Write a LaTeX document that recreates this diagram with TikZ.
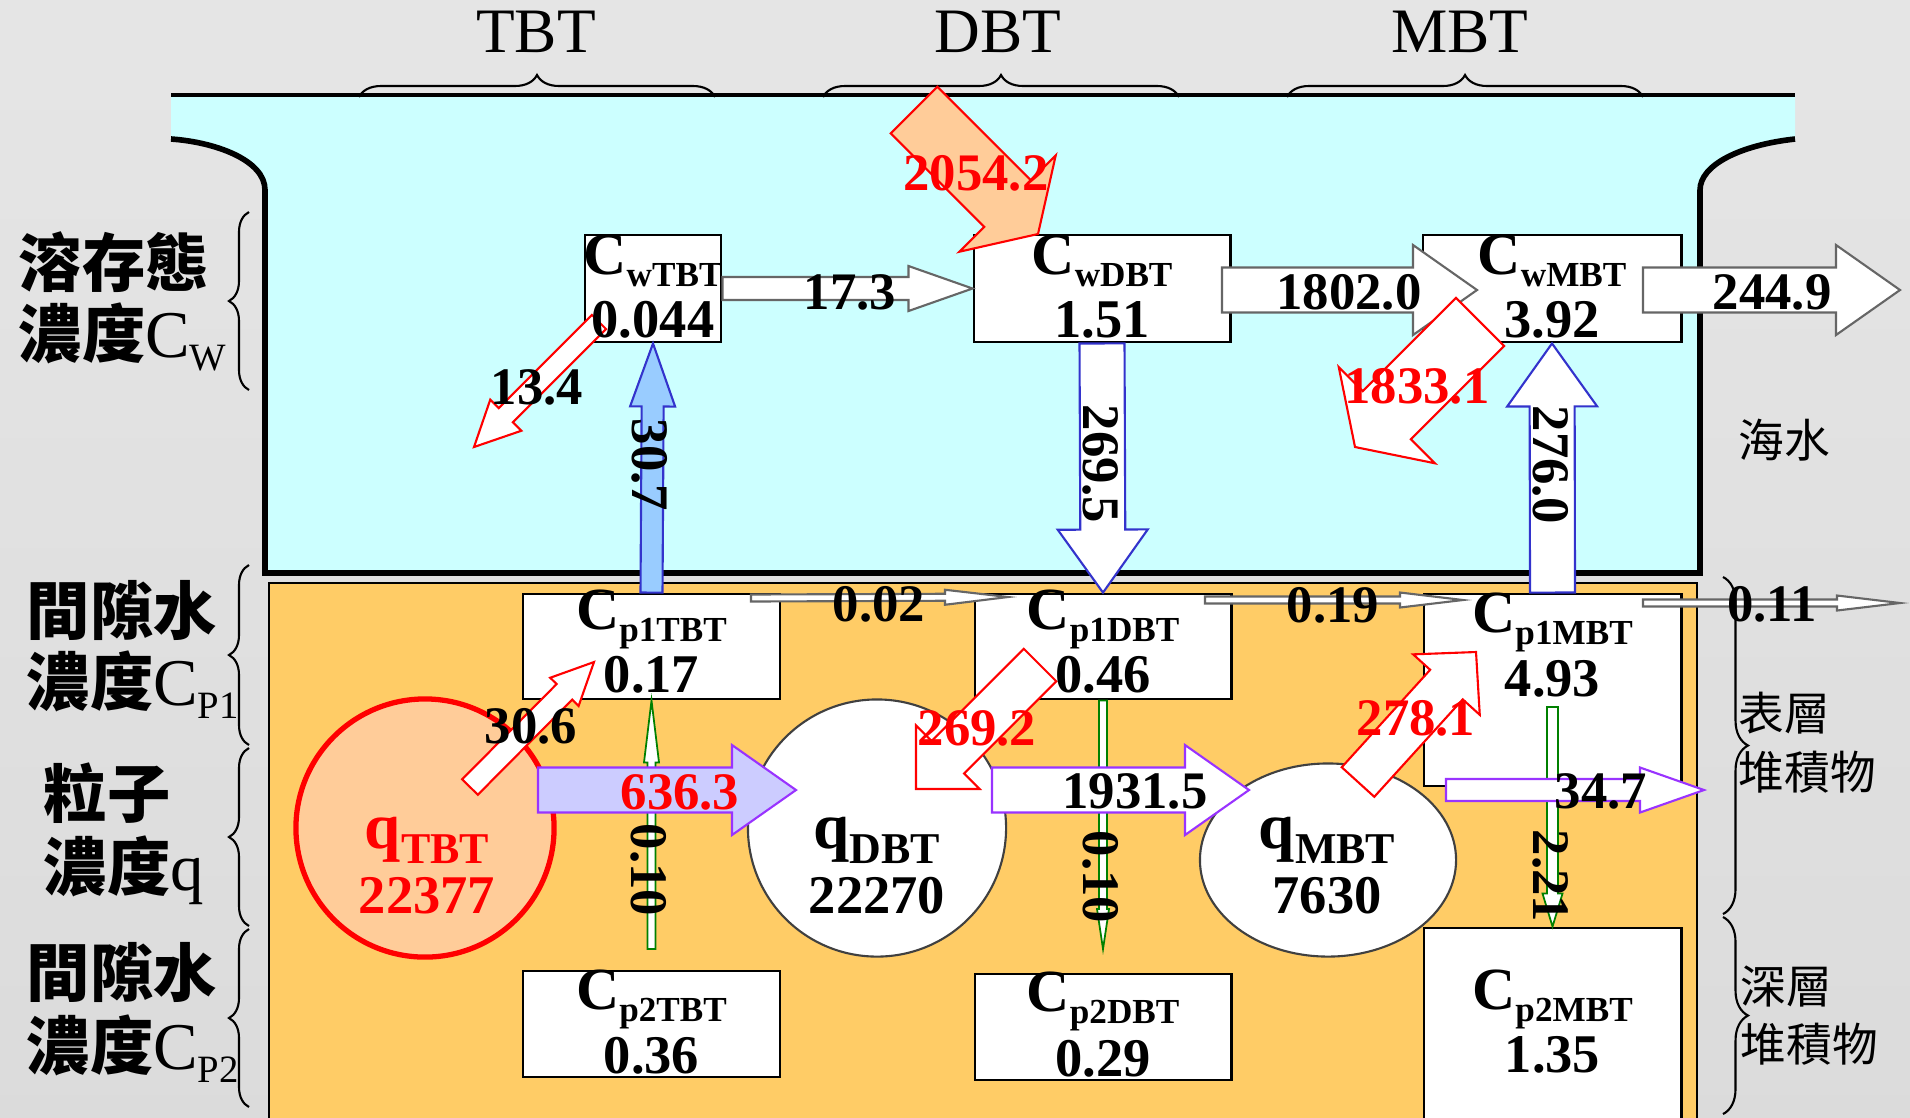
\documentclass[tikz,border=0pt]{standalone}
\usepackage{fontspec}
\setmainfont{Liberation Serif}
\newfontfamily\cjk{Noto Sans CJK TC}
\usetikzlibrary{calc,shapes.geometric,decorations.pathreplacing}

\definecolor{waterColor}{RGB}{204,255,255}
\definecolor{sedColor}{RGB}{255,204,102}
\definecolor{peachColor}{RGB}{255,204,153}
\definecolor{skyColor}{RGB}{153,204,255}
\definecolor{lavColor}{RGB}{204,204,255}
\definecolor{purpColor}{RGB}{153,51,255}
\definecolor{blueEdge}{RGB}{51,51,204}
\definecolor{grayEdge}{RGB}{102,102,102}
\definecolor{greenEdge}{RGB}{0,128,0}

\newcommand{\Csub}[2]{{\fontsize{17}{17}\selectfont #1}\raisebox{-3.5pt}{\fontsize{10}{10}\selectfont #2}}
\newcommand{\qsub}[2]{{\fontsize{18.5}{18.5}\selectfont #1}\raisebox{-4.5pt}{\fontsize{12.5}{12.5}\selectfont #2}}
\newcommand{\sidesub}[2]{{\rmfamily\mdseries\fontsize{19}{19}\selectfont #1\raisebox{-3.7pt}{\fontsize{11}{11}\selectfont #2}}}
% block arrow: [style]{tail}{tip}{shaft half width}{head half width}{head length}
\newcommand{\blockarrow}[6][]{%
  \pgfmathsetlengthmacro{\baw}{#4*0.01cm}%
  \pgfmathsetlengthmacro{\bah}{#5*0.01cm}%
  \pgfmathsetlengthmacro{\bal}{#6*0.01cm}%
  \path #2 coordinate (ba-s) #3 coordinate (ba-e);
  \path ($(ba-e)!\bal!(ba-s)$) coordinate (ba-h);
  \draw[#1] ($(ba-s)!\baw!90:(ba-e)$) -- ($(ba-h)!\baw!-90:(ba-s)$)
    -- ($(ba-h)!\bah!-90:(ba-s)$) -- (ba-e) -- ($(ba-h)!\bah!90:(ba-s)$)
    -- ($(ba-h)!\baw!90:(ba-s)$) -- ($(ba-s)!\baw!-90:(ba-e)$) -- cycle;
}

\begin{document}
\begin{tikzpicture}[x=0.01cm, y=-0.01cm,
    box/.style={draw=black, line width=0.8pt, fill=white, inner sep=0pt},
    pool/.style={ellipse, inner sep=0pt},
    conc/.style={font=\bfseries, anchor=base, inner sep=0pt},
    val/.style={font=\fontsize{15.5}{15.5}\selectfont\bfseries, anchor=base, inner sep=0pt},
    flow/.style={font=\fontsize{15}{15}\selectfont\bfseries, inner sep=0pt},
    redflow/.style={flow, text=red},
    vflow/.style={flow, rotate=-90},
    species/.style={font=\fontsize{18}{18}\selectfont, anchor=base, inner sep=0pt},
    side/.style={font=\cjk\bfseries\fontsize{18}{18}\selectfont, anchor=base west, inner sep=0pt},
    note/.style={font=\cjk\fontsize{13}{13}\selectfont, anchor=base west, inner sep=0pt},
    topbrace/.style={decorate, decoration={brace, amplitude=0.22cm}, line width=0.6pt},
    leftbrace/.style={decorate, decoration={brace, amplitude=0.2cm}, line width=0.6pt},
    rightbrace/.style={decorate, decoration={brace, amplitude=0.25cm}, line width=0.6pt},
    grayarrow/.style={draw=grayEdge, fill=white, line width=0.6pt},
    redarrow/.style={draw=red, fill=white, line width=0.6pt},
    peacharrow/.style={draw=red, fill=peachColor, line width=0.6pt},
    bluearrow/.style={draw=blueEdge, fill=skyColor, line width=0.6pt},
    whitebluearrow/.style={draw=blueEdge, fill=white, line width=0.6pt},
    purparrow/.style={draw=purpColor, fill=lavColor, line width=0.6pt},
    whitepurparrow/.style={draw=purpColor, fill=white, line width=0.6pt},
    greenarrow/.style={draw=greenEdge, fill=white, line width=0.5pt}
]
    \useasboundingbox (0,0) rectangle (1910,1117);
    \shade[top color=black!10, middle color=white, bottom color=black!14] (0,0) rectangle (1910,1117);

    % sea water and sediment
    \fill[waterColor] (171,95) -- (1795,95) -- (1795,139) .. controls (1740,145) and (1700,165) .. (1700,190)
        -- (1700,573) -- (265,573) -- (265,190) .. controls (265,160) and (215,142) .. (171,139) -- cycle;
    \draw[line width=1.6pt] (171,139) .. controls (215,142) and (265,160) .. (265,190) -- (265,573)
        -- (1700,573) -- (1700,190) .. controls (1700,165) and (1740,145) .. (1795,139);
    \draw[line width=1.3pt] (171,95) -- (1795,95);
    \draw[fill=sedColor, line width=0.5pt] (269,583) rectangle (1697,1140);

    % species
    \node[species] (tTBT) at (536,52) {TBT};
    \node[species] (tDBT) at (998,52) {DBT};
    \node[species] (tMBT) at (1460,52) {MBT};
    \draw[topbrace] (359,97) -- (715,97);
    \draw[topbrace] (823,97) -- (1179,97);
    \draw[topbrace] (1287,97) -- (1643,97);

    % compartments
    \node[box, minimum width=1.36cm, minimum height=1.07cm] (wTBT) at (653,288.5) {};
    \node[box, minimum width=2.56cm, minimum height=1.07cm] (wDBT) at (1102,288.5) {};
    \node[box, minimum width=2.58cm, minimum height=1.07cm] (wMBT) at (1552,288.5) {};
    \node[box, minimum width=2.57cm, minimum height=1.05cm] (p1TBT) at (651.5,646.5) {};
    \node[box, minimum width=2.56cm, minimum height=1.05cm] (p1DBT) at (1103,646.5) {};
    \node[box, minimum width=2.57cm, minimum height=1.92cm] (p1MBT) at (1552.5,690) {};
    \node[box, minimum width=2.57cm, minimum height=1.06cm] (p2TBT) at (651.5,1024) {};
    \node[box, minimum width=2.56cm, minimum height=1.06cm] (p2DBT) at (1103,1027) {};
    \node[box, minimum width=2.57cm, minimum height=2.10cm] (p2MBT) at (1552.5,1033) {};
    \node[pool, draw=red, line width=1.5pt, fill=peachColor, minimum width=2.58cm, minimum height=2.58cm] (qTBT) at (425,828) {};
    \node[pool, draw=black!75, line width=0.6pt, fill=white, minimum width=2.58cm, minimum height=2.57cm] (qDBT) at (877,828) {};
    \node[pool, draw=black!75, line width=0.6pt, fill=white, minimum width=2.56cm, minimum height=1.93cm] (qMBT) at (1328,860) {};

    % free arrow ends
    \coordinate (inDBT) at (914,110);
    \coordinate (inDBTtip) at (1038,234);
    \coordinate (lossTBT) at (599,322);
    \coordinate (lossTBTtip) at (474,447);
    \coordinate (lossMBT) at (1480,322);
    \coordinate (lossMBTtip) at (1355,447);
    \coordinate (wD2M) at (1222,290);
    \coordinate (wD2Mtip) at (1477,290);
    \coordinate (wMout) at (1643,290);
    \coordinate (wMouttip) at (1900,290);
    \coordinate (pT2D) at (751,598);
    \coordinate (pT2Dtip) at (1008,597);
    \coordinate (pD2M) at (1205,600);
    \coordinate (pD2Mtip) at (1463,600);
    \coordinate (pMout) at (1643,603);
    \coordinate (pMouttip) at (1900,603);
    \coordinate (desTBT) at (470,787);
    \coordinate (desTBTtip) at (594,662);
    \coordinate (adsDBT) at (1040,665);
    \coordinate (adsDBTtip) at (916,789);
    \coordinate (desMBT) at (1358,782);
    \coordinate (desMBTtip) at (1476,652);
    \coordinate (qT2D) at (538,790);
    \coordinate (qT2Dtip) at (796,790);
    \coordinate (qD2M) at (992,790);
    \coordinate (qD2Mtip) at (1249,790);
    \coordinate (qMout) at (1446,790);
    \coordinate (qMouttip) at (1704,790);
    \coordinate (deepTBT) at (651.5,949);
    \coordinate (deepDBT) at (1103,949);
    \coordinate (surfMBT) at (1552.5,707);

    % fluxes
    \blockarrow[greenarrow]{(deepTBT)}{(p1TBT.south)}{4}{7.5}{62}
    \blockarrow[greenarrow]{(p1DBT.south)}{(deepDBT)}{4}{6}{40}
    \blockarrow[greenarrow]{(surfMBT)}{(p2MBT.north)}{5.5}{10}{33}
    \blockarrow[peacharrow]{(inDBT)}{(inDBTtip)}{33}{68}{43}
    \blockarrow[grayarrow]{(wTBT.east)}{(wDBT.west)}{11.5}{22.5}{64}
    \blockarrow[grayarrow]{(wD2M)}{(wD2Mtip)}{22.5}{45}{64}
    \blockarrow[grayarrow]{(wMout)}{(wMouttip)}{22.5}{45}{64}
    \blockarrow[redarrow]{(lossTBT)}{(lossTBTtip)}{10}{22}{45}
    \blockarrow[redarrow]{(lossMBT)}{(lossMBTtip)}{34}{68}{45}
    \blockarrow[bluearrow]{(p1TBT.north)}{(wTBT.south)}{11}{22.5}{63}
    \blockarrow[whitebluearrow]{(wDBT.south)}{(p1DBT.north)}{22.5}{45}{63}
    \blockarrow[whitebluearrow]{(p1MBT.north)}{(wMBT.south)}{22.5}{45}{63}
    \blockarrow[grayarrow]{(pT2D)}{(pT2Dtip)}{3.5}{7.5}{63}
    \blockarrow[grayarrow]{(pD2M)}{(pD2Mtip)}{3.5}{7.5}{63}
    \blockarrow[grayarrow]{(pMout)}{(pMouttip)}{3.5}{7.5}{63}
    \blockarrow[purparrow]{(qT2D)}{(qT2Dtip)}{22.5}{45}{64}
    \blockarrow[whitepurparrow]{(qD2M)}{(qD2Mtip)}{22.5}{45}{64}
    \blockarrow[whitepurparrow]{(qMout)}{(qMouttip)}{11}{22.5}{64}
    \blockarrow[redarrow]{(desTBT)}{(desTBTtip)}{11}{20}{42}
    \blockarrow[redarrow]{(adsDBT)}{(adsDBTtip)}{23}{45}{45}
    \blockarrow[redarrow]{(desMBT)}{(desMBTtip)}{22}{45}{44}

    % concentrations
    \node[conc] (wTBTc) at (653,274) {\Csub{C}{wTBT}};
    \node[val] (wTBTv) at (653,337) {0.044};
    \node[conc] (wDBTc) at (1102,274) {\Csub{C}{wDBT}};
    \node[val] (wDBTv) at (1102,337) {1.51};
    \node[conc] (wMBTc) at (1552,274) {\Csub{C}{wMBT}};
    \node[val] (wMBTv) at (1552,337) {3.92};
    \node[conc] (p1TBTc) at (651.5,629) {\Csub{C}{p1TBT}};
    \node[val] (p1TBTv) at (651.5,692) {0.17};
    \node[conc] (p1DBTc) at (1103,629) {\Csub{C}{p1DBT}};
    \node[val] (p1DBTv) at (1103,692) {0.46};
    \node[conc] (p1MBTc) at (1552.5,632) {\Csub{C}{p1MBT}};
    \node[val] (p1MBTv) at (1552.5,696) {4.93};
    \node[conc] (p2TBTc) at (651.5,1009) {\Csub{C}{p2TBT}};
    \node[val] (p2TBTv) at (651.5,1073) {0.36};
    \node[conc] (p2DBTc) at (1103,1011) {\Csub{C}{p2DBT}};
    \node[val] (p2DBTv) at (1103,1076) {0.29};
    \node[conc] (p2MBTc) at (1552.5,1009) {\Csub{C}{p2MBT}};
    \node[val] (p2MBTv) at (1552.5,1072) {1.35};
    \node[conc, text=red] (qTBTc) at (427,848) {\qsub{q}{TBT}};
    \node[val, text=red] (qTBTv) at (427,913) {22377};
    \node[conc] (qDBTc) at (877,848) {\qsub{q}{DBT}};
    \node[val] (qDBTv) at (877,913) {22270};
    \node[conc] (qMBTc) at (1327,848) {\qsub{q}{MBT}};
    \node[val] (qMBTv) at (1327,913) {7630};

    % flux values
    \node[redflow] (f2054) at (976,173) {2054.2};
    \node[flow] (f173) at (850,292) {17.3};
    \node[flow] (f1802) at (1349,292) {1802.0};
    \node[flow] (f2449) at (1772,292) {244.9};
    \node[flow] (f134) at (537,387) {13.4};
    \node[redflow] (f1833) at (1417,386) {1833.1};
    \node[vflow] (f307) at (650,465) {30.7};
    \node[vflow] (f2695) at (1101,464) {269.5};
    \node[vflow] (f2760) at (1551,465) {276.0};
    \node[flow] (f002) at (879,604) {0.02};
    \node[flow] (f019) at (1333,605) {0.19};
    \node[flow] (f011) at (1772,604) {0.11};
    \node[flow] (f306) at (531,726) {30.6};
    \node[redflow] (f2692) at (977,728) {269.2};
    \node[redflow] (f2781) at (1416,718) {278.1};
    \node[redflow] (f6363) at (680,792) {636.3};
    \node[flow] (f19315) at (1135,791) {1931.5};
    \node[flow] (f347) at (1601,791) {34.7};
    \node[vflow] (f010a) at (649,870) {0.10};
    \node[vflow] (f010b) at (1101,877) {0.10};
    \node[vflow] (f221) at (1551,876) {2.21};

    % phase labels
    \node[side] (cwA) at (18,286) {溶存態};
    \node[side] (cwB) at (18,357) {濃度\sidesub{C}{W}};
    \node[side] (cp1A) at (26,634) {間隙水};
    \node[side] (cp1B) at (26,705) {濃度\sidesub{C}{P1}};
    \node[side] (qA) at (43,817) {粒子};
    \node[side] (qB) at (43,890) {濃度\sidesub{q}{}};
    \node[side] (cp2A) at (26,996) {間隙水};
    \node[side] (cp2B) at (26,1069) {濃度\sidesub{C}{P2}};
    \draw[leftbrace] (249,390) -- (249,212);
    \draw[leftbrace] (249,745) -- (249,565);
    \draw[leftbrace] (249,926) -- (249,748);
    \draw[leftbrace] (249,1107) -- (249,929);

    \node[note] (sea) at (1738,457) {海水};
    \node[note] (surfA) at (1738,730) {表層};
    \node[note] (surfB) at (1738,789) {堆積物};
    \node[note] (deepA) at (1740,1003) {深層};
    \node[note] (deepB) at (1740,1061) {堆積物};
    \draw[rightbrace] (1723,577) -- (1723,914);
    \draw[rightbrace] (1723,917) -- (1723,1114);
\end{tikzpicture}
\end{document}
